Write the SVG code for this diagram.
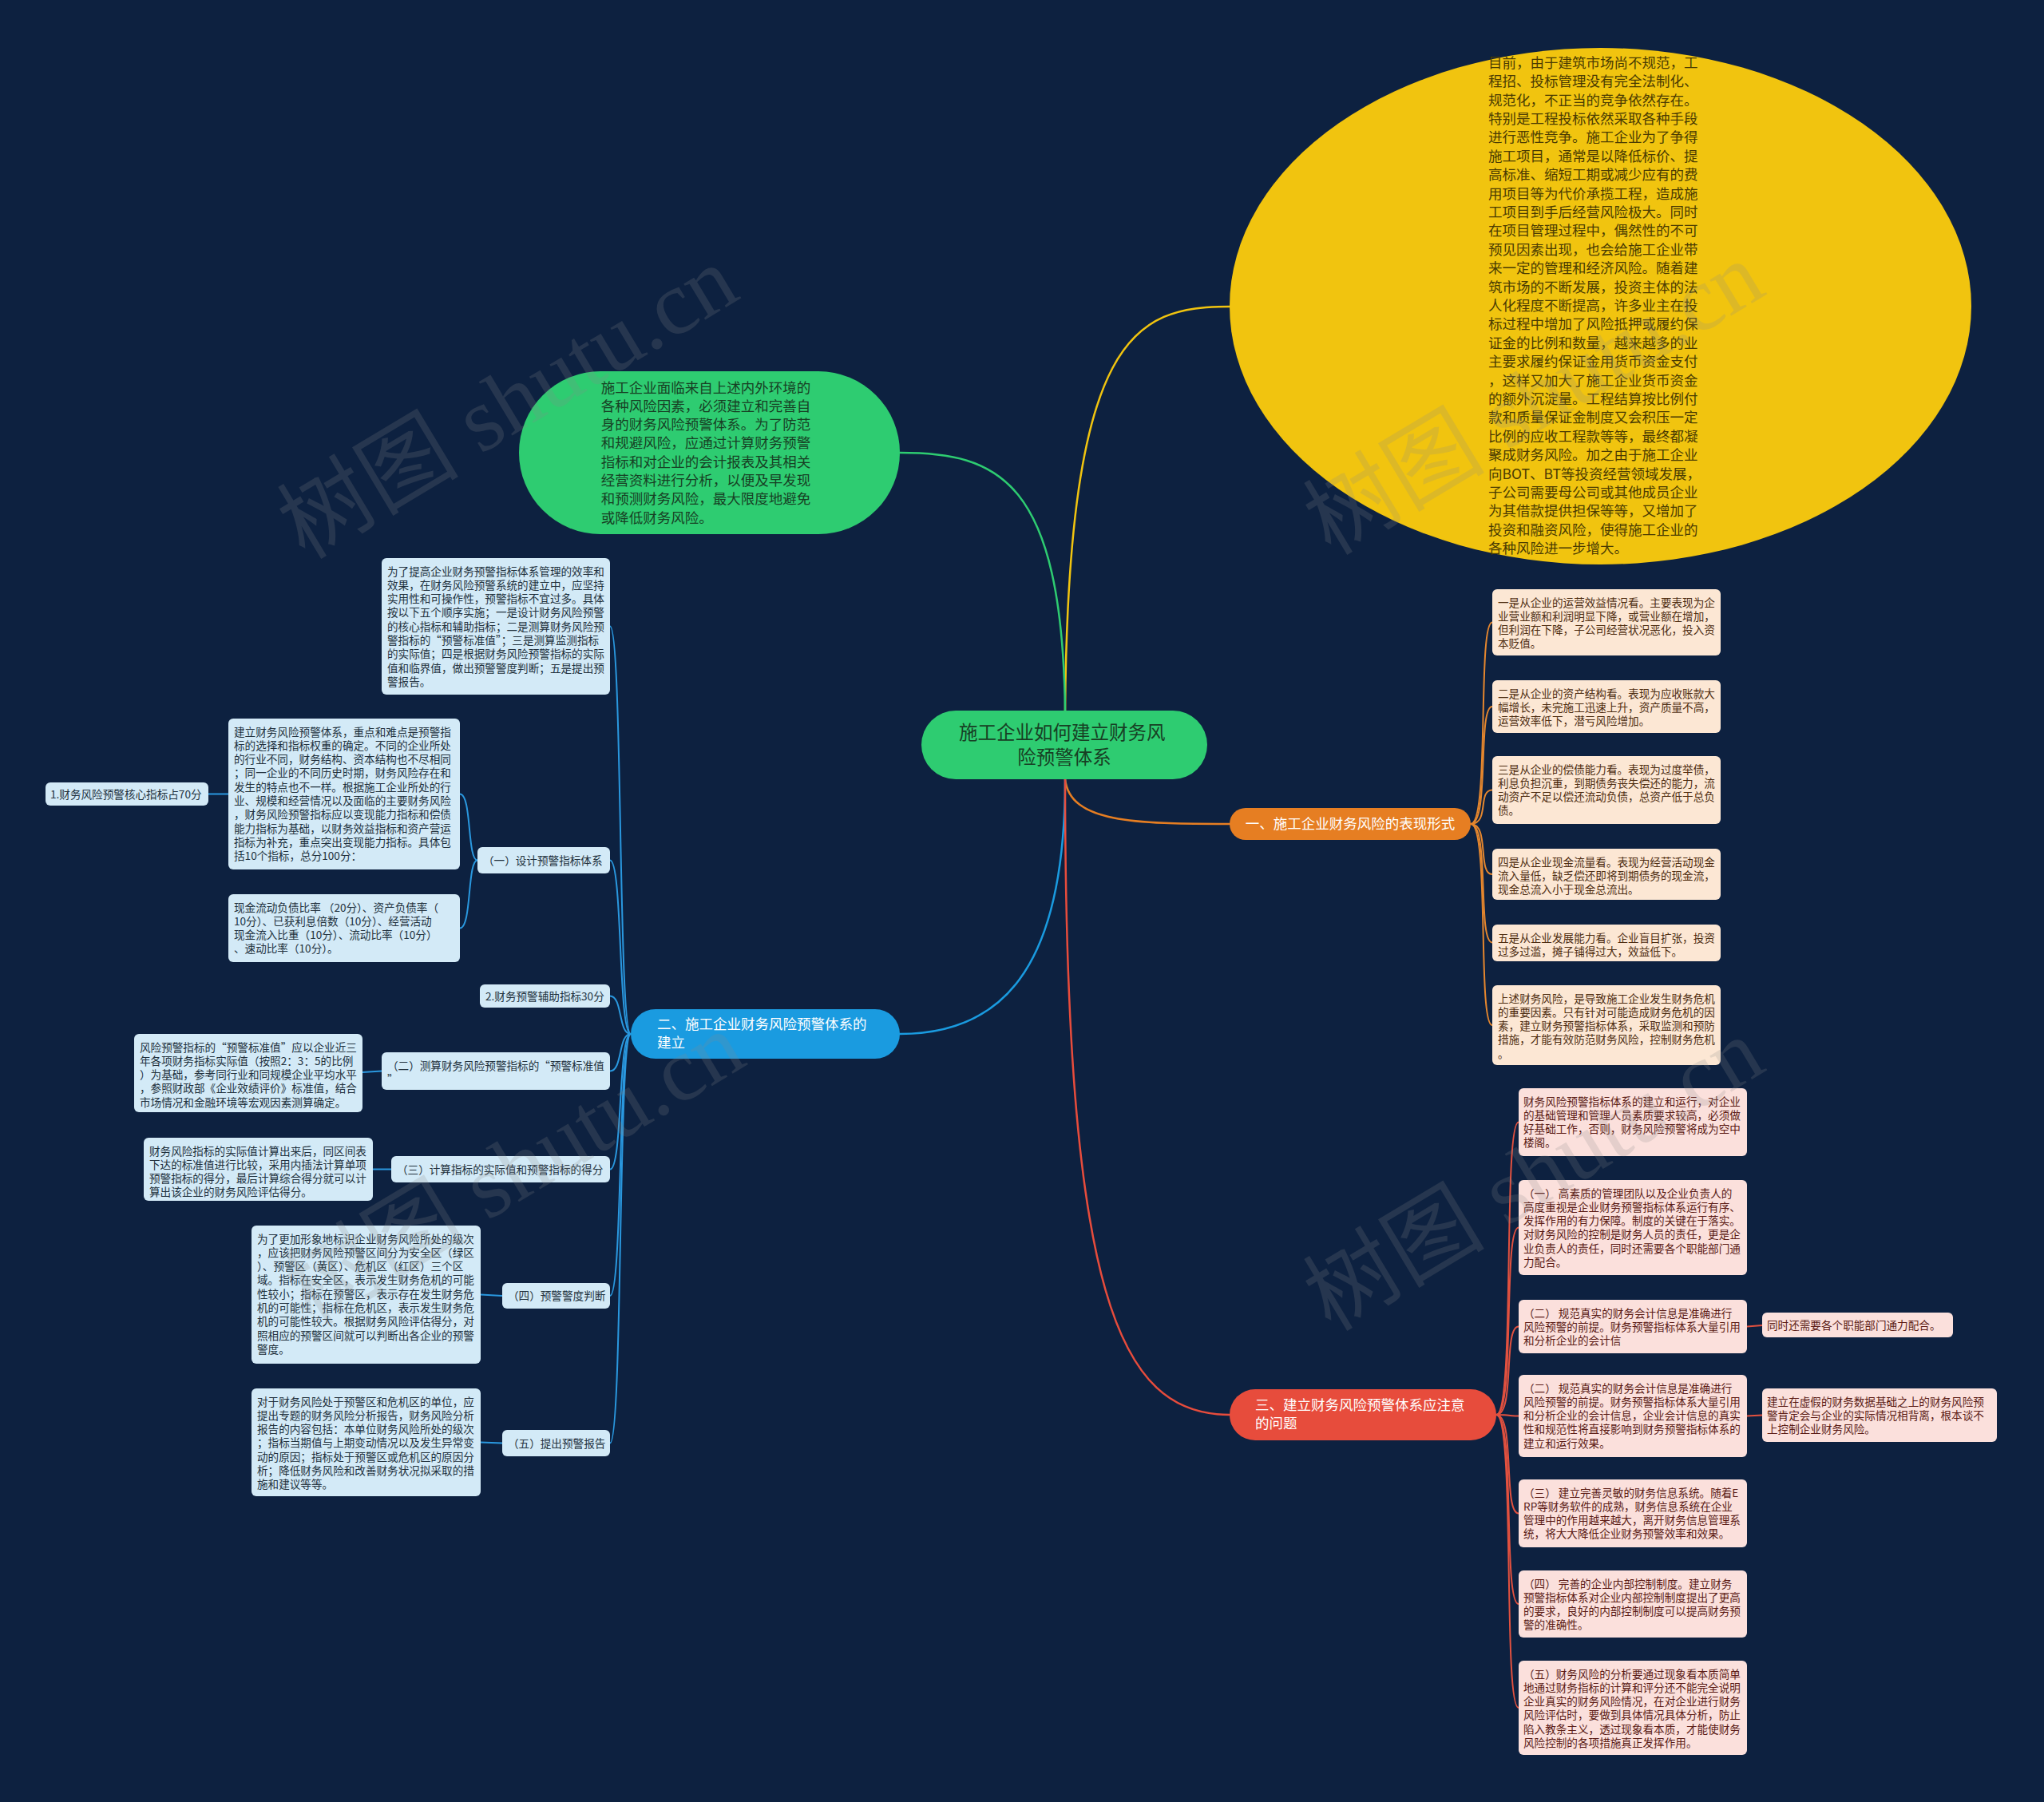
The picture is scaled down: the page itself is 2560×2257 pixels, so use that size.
<svg xmlns="http://www.w3.org/2000/svg" width="2560" height="2257" viewBox="0 0 2560 2257">
<style>
text{font-family:"Noto Sans CJK SC","Noto Sans",sans-serif}
.big{font-size:17.5px}
.sm{font-size:13.6px}
.yt{fill:#4a3b02}
.gt{fill:#173f24}
.wt{fill:#ffffff}
.bt{fill:#22313d}
.ot{fill:#4d2c10}
.rt{fill:#5a1a14}
.bbox{fill:#d3eaf7}
.obox{fill:#fce7d4}
.rbox{fill:#fbe0dc}
.c{fill:none;stroke-linecap:round}
.cb{stroke:#2a98df;stroke-width:2}
.co{stroke:#e4862e;stroke-width:2}
.cr{stroke:#e2513f;stroke-width:2}
.wm{font-family:"Liberation Serif","Noto Sans CJK SC",serif;font-size:114px;fill:#8a8a8a;opacity:0.2}
</style>
<rect x="0" y="0" width="2560" height="2257" fill="#0d2140"/>

<g id="connectors">
<path class="c" d="M1334,890 C1338,420 1420,384 1540,384" stroke="#f1c40f" stroke-width="2.5"/>
<path class="c" d="M1334,890 C1330,600 1250,567 1127,567" stroke="#2ecc71" stroke-width="2.5"/>
<path class="c" d="M1334,976 C1340,1030 1420,1032 1540,1032" stroke="#e67e22" stroke-width="2.5"/>
<path class="c" d="M1334,976 C1334,1220 1250,1295 1127,1295" stroke="#1a9be0" stroke-width="2.5"/>
<path class="c" d="M1334,976 C1334,1620 1400,1772 1540,1772" stroke="#e74c3c" stroke-width="2.5"/>

<path class="c co" d="M1842,1032 C1866,1032 1850,779.5 1869,779.5"/>
<path class="c co" d="M1842,1032 C1866,1032 1850,885 1869,885"/>
<path class="c co" d="M1842,1032 C1866,1032 1850,989.5 1869,989.5"/>
<path class="c co" d="M1842,1032 C1866,1032 1850,1095 1869,1095"/>
<path class="c co" d="M1842,1032 C1866,1032 1850,1180.5 1869,1180.5"/>
<path class="c co" d="M1842,1032 C1866,1032 1850,1284 1869,1284"/>

<path class="c cr" d="M1874,1772 C1898,1772 1882,1405.5 1902,1405.5"/>
<path class="c cr" d="M1874,1772 C1898,1772 1882,1537.5 1902,1537.5"/>
<path class="c cr" d="M1874,1772 C1898,1772 1882,1661.5 1902,1661.5"/>
<path class="c cr" d="M1874,1772 C1898,1772 1882,1773.5 1902,1773.5"/>
<path class="c cr" d="M1874,1772 C1898,1772 1882,1895.5 1902,1895.5"/>
<path class="c cr" d="M1874,1772 C1898,1772 1882,2009 1902,2009"/>
<path class="c cr" d="M1874,1772 C1898,1772 1882,2139 1902,2139"/>
<path class="c cr" d="M2188,1661.5 L2207,1660"/>
<path class="c cr" d="M2188,1773.5 L2207,1772.5"/>

<path class="c cb" d="M790,1295 C774,1295 780,784.5 764,784.5"/>
<path class="c cb" d="M790,1295 C774,1295 780,1077.5 764,1077.5"/>
<path class="c cb" d="M790,1295 C774,1295 780,1247.5 764,1247.5"/>
<path class="c cb" d="M790,1295 C774,1295 780,1341.5 764,1341.5"/>
<path class="c cb" d="M790,1295 C774,1295 780,1464.5 764,1464.5"/>
<path class="c cb" d="M790,1295 C774,1295 780,1623 764,1623"/>
<path class="c cb" d="M790,1295 C774,1295 780,1807.5 764,1807.5"/>
<path class="c cb" d="M598,1077.5 C585,1077.5 591,994.5 576,994.5"/>
<path class="c cb" d="M598,1077.5 C585,1077.5 591,1162.5 576,1162.5"/>
<path class="c cb" d="M286,994.5 L261,994.5"/>
<path class="c cb" d="M478,1341.5 L454,1343"/>
<path class="c cb" d="M490,1464.5 L467,1464.5"/>
<path class="c cb" d="M629,1623 L602,1621.5"/>
<path class="c cb" d="M629,1807.5 L602,1806.5"/>
</g>

<g id="n-yellow">
<ellipse cx="2004.5" cy="383.5" rx="464.5" ry="323.5" fill="#f1c40f"/>
<text class="big yt">
<tspan x="1864" y="84.7">目前，由于建筑市场尚不规范，工</tspan>
<tspan x="1864" y="108.1">程招、投标管理没有完全法制化、</tspan>
<tspan x="1864" y="131.5">规范化，不正当的竞争依然存在。</tspan>
<tspan x="1864" y="154.9">特别是工程投标依然采取各种手段</tspan>
<tspan x="1864" y="178.3">进行恶性竞争。施工企业为了争得</tspan>
<tspan x="1864" y="201.7">施工项目，通常是以降低标价、提</tspan>
<tspan x="1864" y="225.1">高标准、缩短工期或减少应有的费</tspan>
<tspan x="1864" y="248.5">用项目等为代价承揽工程，造成施</tspan>
<tspan x="1864" y="271.9">工项目到手后经营风险极大。同时</tspan>
<tspan x="1864" y="295.3">在项目管理过程中，偶然性的不可</tspan>
<tspan x="1864" y="318.7">预见因素出现，也会给施工企业带</tspan>
<tspan x="1864" y="342.1">来一定的管理和经济风险。随着建</tspan>
<tspan x="1864" y="365.5">筑市场的不断发展，投资主体的法</tspan>
<tspan x="1864" y="388.9">人化程度不断提高，许多业主在投</tspan>
<tspan x="1864" y="412.3">标过程中增加了风险抵押或履约保</tspan>
<tspan x="1864" y="435.7">证金的比例和数量，越来越多的业</tspan>
<tspan x="1864" y="459.1">主要求履约保证金用货币资金支付</tspan>
<tspan x="1864" y="482.5">，这样又加大了施工企业货币资金</tspan>
<tspan x="1864" y="505.9">的额外沉淀量。工程结算按比例付</tspan>
<tspan x="1864" y="529.3">款和质量保证金制度又会积压一定</tspan>
<tspan x="1864" y="552.7">比例的应收工程款等等，最终都凝</tspan>
<tspan x="1864" y="576.1">聚成财务风险。加之由于施工企业</tspan>
<tspan x="1864" y="599.5">向BOT、BT等投资经营领域发展，</tspan>
<tspan x="1864" y="622.9">子公司需要母公司或其他成员企业</tspan>
<tspan x="1864" y="646.3">为其借款提供担保等等，又增加了</tspan>
<tspan x="1864" y="669.7">投资和融资风险，使得施工企业的</tspan>
<tspan x="1864" y="693.1">各种风险进一步增大。</tspan>
</text>
</g>

<g id="n-green">
<rect x="650" y="465" width="477" height="204" rx="102" fill="#2ecc71"/>
<text class="big gt">
<tspan x="752.7" y="491.5">施工企业面临来自上述内外环境的</tspan>
<tspan x="752.7" y="514.8">各种风险因素，必须建立和完善自</tspan>
<tspan x="752.7" y="538.1">身的财务风险预警体系。为了防范</tspan>
<tspan x="752.7" y="561.4">和规避风险，应通过计算财务预警</tspan>
<tspan x="752.7" y="584.7">指标和对企业的会计报表及其相关</tspan>
<tspan x="752.7" y="608">经营资料进行分析，以便及早发现</tspan>
<tspan x="752.7" y="631.3">和预测财务风险，最大限度地避免</tspan>
<tspan x="752.7" y="654.6">或降低财务风险。</tspan>
</text>
</g>

<g id="n-root">
<rect x="1154" y="890" width="358" height="86" rx="43" fill="#2ecc71"/>
<text style="font-size:23.5px" class="gt" text-anchor="middle">
<tspan x="1333" y="926">施工企业如何建立财务风</tspan>
<tspan x="1333" y="957">险预警体系</tspan>
</text>
</g>

<g id="n-orange">
<rect x="1540" y="1012" width="302" height="40" rx="20" fill="#e67e22"/>
<text class="big wt" x="1691" y="1038" text-anchor="middle">一、施工企业财务风险的表现形式</text>
</g>

<g id="n-o1"><rect class="obox" x="1869" y="738" width="286" height="83" rx="6"/>
<text class="sm ot"><tspan x="1876" y="759.5">一是从企业的运营效益情况看。主要表现为企</tspan><tspan x="1876" y="776.8">业营业额和利润明显下降，或营业额在增加，</tspan><tspan x="1876" y="794.1">但利润在下降，子公司经营状况恶化，投入资</tspan><tspan x="1876" y="811.4">本贬值。</tspan></text></g>
<g id="n-o2"><rect class="obox" x="1869" y="852" width="286" height="66" rx="6"/>
<text class="sm ot"><tspan x="1876" y="873.5">二是从企业的资产结构看。表现为应收账款大</tspan><tspan x="1876" y="890.8">幅增长，未完施工迅速上升，资产质量不高，</tspan><tspan x="1876" y="908.1">运营效率低下，潜亏风险增加。</tspan></text></g>
<g id="n-o3"><rect class="obox" x="1869" y="947" width="286" height="85" rx="6"/>
<text class="sm ot"><tspan x="1876" y="968.5">三是从企业的偿债能力看。表现为过度举债，</tspan><tspan x="1876" y="985.8">利息负担沉重，到期债务丧失偿还的能力，流</tspan><tspan x="1876" y="1003.1">动资产不足以偿还流动负债，总资产低于总负</tspan><tspan x="1876" y="1020.4">债。</tspan></text></g>
<g id="n-o4"><rect class="obox" x="1869" y="1063" width="286" height="64" rx="6"/>
<text class="sm ot"><tspan x="1876" y="1084.5">四是从企业现金流量看。表现为经营活动现金</tspan><tspan x="1876" y="1101.8">流入量低，缺乏偿还即将到期债务的现金流，</tspan><tspan x="1876" y="1119.1">现金总流入小于现金总流出。</tspan></text></g>
<g id="n-o5"><rect class="obox" x="1869" y="1158" width="286" height="46" rx="6"/>
<text class="sm ot"><tspan x="1876" y="1179.5">五是从企业发展能力看。企业盲目扩张，投资</tspan><tspan x="1876" y="1196.8">过多过滥，摊子铺得过大，效益低下。</tspan></text></g>
<g id="n-o6"><rect class="obox" x="1869" y="1234" width="286" height="100" rx="6"/>
<text class="sm ot"><tspan x="1876" y="1255.5">上述财务风险，是导致施工企业发生财务危机</tspan><tspan x="1876" y="1272.8">的重要因素。只有针对可能造成财务危机的因</tspan><tspan x="1876" y="1290.1">素，建立财务预警指标体系，采取监测和预防</tspan><tspan x="1876" y="1307.4">措施，才能有效防范财务风险，控制财务危机</tspan><tspan x="1876" y="1324.7">。</tspan></text></g>

<g id="n-red">
<rect x="1540" y="1740" width="334" height="64" rx="32" fill="#e74c3c"/>
<text class="big wt"><tspan x="1572" y="1766">三、建立财务风险预警体系应注意</tspan><tspan x="1572" y="1789">的问题</tspan></text>
</g>

<g id="n-r1"><rect class="rbox" x="1902" y="1363" width="286" height="85" rx="6"/>
<text class="sm rt"><tspan x="1908" y="1384.5">财务风险预警指标体系的建立和运行，对企业</tspan><tspan x="1908" y="1401.8">的基础管理和管理人员素质要求较高，必须做</tspan><tspan x="1908" y="1419.1">好基础工作，否则，财务风险预警将成为空中</tspan><tspan x="1908" y="1436.4">楼阁。</tspan></text></g>
<g id="n-r2"><rect class="rbox" x="1902" y="1478" width="286" height="119" rx="6"/>
<text class="sm rt"><tspan x="1908" y="1499.5">（一） 高素质的管理团队以及企业负责人的</tspan><tspan x="1908" y="1516.8">高度重视是企业财务预警指标体系运行有序、</tspan><tspan x="1908" y="1534.1">发挥作用的有力保障。制度的关键在于落实。</tspan><tspan x="1908" y="1551.4">对财务风险的控制是财务人员的责任，更是企</tspan><tspan x="1908" y="1568.7">业负责人的责任，同时还需要各个职能部门通</tspan><tspan x="1908" y="1586">力配合。</tspan></text></g>
<g id="n-r3"><rect class="rbox" x="1902" y="1628" width="286" height="67" rx="6"/>
<text class="sm rt"><tspan x="1908" y="1649.5">（二） 规范真实的财务会计信息是准确进行</tspan><tspan x="1908" y="1666.8">风险预警的前提。财务预警指标体系大量引用</tspan><tspan x="1908" y="1684.1">和分析企业的会计信</tspan></text></g>
<g id="n-r3a"><rect class="rbox" x="2207" y="1644" width="239" height="31" rx="6"/>
<text class="sm rt" x="2213" y="1664.5">同时还需要各个职能部门通力配合。</text></g>
<g id="n-r4"><rect class="rbox" x="1902" y="1722" width="286" height="103" rx="6"/>
<text class="sm rt"><tspan x="1908" y="1743.5">（二） 规范真实的财务会计信息是准确进行</tspan><tspan x="1908" y="1760.8">风险预警的前提。财务预警指标体系大量引用</tspan><tspan x="1908" y="1778.1">和分析企业的会计信息，企业会计信息的真实</tspan><tspan x="1908" y="1795.4">性和规范性将直接影响到财务预警指标体系的</tspan><tspan x="1908" y="1812.7">建立和运行效果。</tspan></text></g>
<g id="n-r4a"><rect class="rbox" x="2207" y="1739" width="294" height="67" rx="6"/>
<text class="sm rt"><tspan x="2213" y="1760.5">建立在虚假的财务数据基础之上的财务风险预</tspan><tspan x="2213" y="1777.8">警肯定会与企业的实际情况相背离，根本谈不</tspan><tspan x="2213" y="1795.1">上控制企业财务风险。</tspan></text></g>
<g id="n-r5"><rect class="rbox" x="1902" y="1853" width="286" height="85" rx="6"/>
<text class="sm rt"><tspan x="1908" y="1874.5">（三） 建立完善灵敏的财务信息系统。随着E</tspan><tspan x="1908" y="1891.8">RP等财务软件的成熟，财务信息系统在企业</tspan><tspan x="1908" y="1909.1">管理中的作用越来越大，离开财务信息管理系</tspan><tspan x="1908" y="1926.4">统，将大大降低企业财务预警效率和效果。</tspan></text></g>
<g id="n-r6"><rect class="rbox" x="1902" y="1967" width="286" height="84" rx="6"/>
<text class="sm rt"><tspan x="1908" y="1988.5">（四） 完善的企业内部控制制度。建立财务</tspan><tspan x="1908" y="2005.8">预警指标体系对企业内部控制制度提出了更高</tspan><tspan x="1908" y="2023.1">的要求，良好的内部控制制度可以提高财务预</tspan><tspan x="1908" y="2040.4">警的准确性。</tspan></text></g>
<g id="n-r7"><rect class="rbox" x="1902" y="2080" width="286" height="118" rx="6"/>
<text class="sm rt"><tspan x="1908" y="2101.5">（五）财务风险的分析要通过现象看本质简单</tspan><tspan x="1908" y="2118.8">地通过财务指标的计算和评分还不能完全说明</tspan><tspan x="1908" y="2136.1">企业真实的财务风险情况，在对企业进行财务</tspan><tspan x="1908" y="2153.4">风险评估时，要做到具体情况具体分析，防止</tspan><tspan x="1908" y="2170.7">陷入教条主义，透过现象看本质，才能使财务</tspan><tspan x="1908" y="2188">风险控制的各项措施真正发挥作用。</tspan></text></g>

<g id="n-blue">
<rect x="790" y="1264" width="337" height="62" rx="31" fill="#1a9be0"/>
<text class="big wt"><tspan x="823" y="1289">二、施工企业财务风险预警体系的</tspan><tspan x="823" y="1312">建立</tspan></text>
</g>

<g id="n-b1"><rect class="bbox" x="478" y="699" width="286" height="171" rx="6"/>
<text class="sm bt"><tspan x="485" y="720.5">为了提高企业财务预警指标体系管理的效率和</tspan><tspan x="485" y="737.8">效果，在财务风险预警系统的建立中，应坚持</tspan><tspan x="485" y="755.1">实用性和可操作性，预警指标不宜过多。具体</tspan><tspan x="485" y="772.4">按以下五个顺序实施；一是设计财务风险预警</tspan><tspan x="485" y="789.7">的核心指标和辅助指标；二是测算财务风险预</tspan><tspan x="485" y="807">警指标的“预警标准值”；三是测算监测指标</tspan><tspan x="485" y="824.3">的实际值；四是根据财务风险预警指标的实际</tspan><tspan x="485" y="841.6">值和临界值，做出预警警度判断；五是提出预</tspan><tspan x="485" y="858.9">警报告。</tspan></text></g>
<g id="n-b2"><rect class="bbox" x="598" y="1061" width="166" height="33" rx="6"/>
<text class="sm bt" x="605" y="1082.5">（一）设计预警指标体系</text></g>
<g id="n-b2a"><rect class="bbox" x="286" y="900" width="290" height="189" rx="6"/>
<text class="sm bt"><tspan x="293" y="921.5">建立财务风险预警体系，重点和难点是预警指</tspan><tspan x="293" y="938.8">标的选择和指标权重的确定。不同的企业所处</tspan><tspan x="293" y="956.1">的行业不同，财务结构、资本结构也不尽相同</tspan><tspan x="293" y="973.4">；同一企业的不同历史时期，财务风险存在和</tspan><tspan x="293" y="990.7">发生的特点也不一样。根据施工企业所处的行</tspan><tspan x="293" y="1008">业、规模和经营情况以及面临的主要财务风险</tspan><tspan x="293" y="1025.3">，财务风险预警指标应以变现能力指标和偿债</tspan><tspan x="293" y="1042.6">能力指标为基础，以财务效益指标和资产营运</tspan><tspan x="293" y="1059.9">指标为补充，重点突出变现能力指标。具体包</tspan><tspan x="293" y="1077.2">括10个指标，总分100分：</tspan></text></g>
<g id="n-b2a1"><rect class="bbox" x="57" y="980" width="204" height="29" rx="6"/>
<text class="sm bt" x="63" y="999.5">1.财务风险预警核心指标占70分</text></g>
<g id="n-b2b"><rect class="bbox" x="286" y="1120" width="290" height="85" rx="6"/>
<text class="sm bt"><tspan x="293" y="1141.5">现金流动负债比率 （20分）、资产负债率（</tspan><tspan x="293" y="1158.8">10分）、已获利息倍数（10分）、经营活动</tspan><tspan x="293" y="1176.1">现金流入比重（10分）、流动比率（10分）</tspan><tspan x="293" y="1193.4">、速动比率（10分）。</tspan></text></g>
<g id="n-b3"><rect class="bbox" x="601" y="1233" width="163" height="29" rx="6"/>
<text class="sm bt" x="608" y="1252.5">2.财务预警辅助指标30分</text></g>
<g id="n-b4"><rect class="bbox" x="478" y="1318" width="286" height="47" rx="6"/>
<text class="sm bt"><tspan x="485" y="1339.5">（二）测算财务风险预警指标的“预警标准值</tspan><tspan x="485" y="1356.8">”</tspan></text></g>
<g id="n-b4a"><rect class="bbox" x="168" y="1295" width="286" height="98" rx="6"/>
<text class="sm bt"><tspan x="175" y="1316.5">风险预警指标的“预警标准值”应以企业近三</tspan><tspan x="175" y="1333.8">年各项财务指标实际值（按照2：3：5的比例</tspan><tspan x="175" y="1351.1">）为基础，参考同行业和同规模企业平均水平</tspan><tspan x="175" y="1368.4">，参照财政部《企业效绩评价》标准值，结合</tspan><tspan x="175" y="1385.7">市场情况和金融环境等宏观因素测算确定。</tspan></text></g>
<g id="n-b5"><rect class="bbox" x="490" y="1448" width="274" height="33" rx="6"/>
<text class="sm bt" x="497" y="1469.5">（三）计算指标的实际值和预警指标的得分</text></g>
<g id="n-b5a"><rect class="bbox" x="180" y="1425" width="287" height="79" rx="6"/>
<text class="sm bt"><tspan x="187" y="1446.5">财务风险指标的实际值计算出来后，同区间表</tspan><tspan x="187" y="1463.8">下达的标准值进行比较，采用内插法计算单项</tspan><tspan x="187" y="1481.1">预警指标的得分，最后计算综合得分就可以计</tspan><tspan x="187" y="1498.4">算出该企业的财务风险评估得分。</tspan></text></g>
<g id="n-b6"><rect class="bbox" x="629" y="1607" width="135" height="32" rx="6"/>
<text class="sm bt" x="636" y="1628">（四）预警警度判断</text></g>
<g id="n-b6a"><rect class="bbox" x="315" y="1535" width="287" height="173" rx="6"/>
<text class="sm bt"><tspan x="322" y="1556.5">为了更加形象地标识企业财务风险所处的级次</tspan><tspan x="322" y="1573.8">，应该把财务风险预警区间分为安全区（绿区</tspan><tspan x="322" y="1591.1">）、预警区（黄区）、危机区（红区）三个区</tspan><tspan x="322" y="1608.4">域。指标在安全区，表示发生财务危机的可能</tspan><tspan x="322" y="1625.7">性较小；指标在预警区，表示存在发生财务危</tspan><tspan x="322" y="1643">机的可能性；指标在危机区，表示发生财务危</tspan><tspan x="322" y="1660.3">机的可能性较大。根据财务风险评估得分，对</tspan><tspan x="322" y="1677.6">照相应的预警区间就可以判断出各企业的预警</tspan><tspan x="322" y="1694.9">警度。</tspan></text></g>
<g id="n-b7"><rect class="bbox" x="629" y="1791" width="135" height="33" rx="6"/>
<text class="sm bt" x="636" y="1812.5">（五）提出预警报告</text></g>
<g id="n-b7a"><rect class="bbox" x="315" y="1739" width="287" height="135" rx="6"/>
<text class="sm bt"><tspan x="322" y="1760.5">对于财务风险处于预警区和危机区的单位，应</tspan><tspan x="322" y="1777.8">提出专题的财务风险分析报告，财务风险分析</tspan><tspan x="322" y="1795.1">报告的内容包括：本单位财务风险所处的级次</tspan><tspan x="322" y="1812.4">；指标当期值与上期变动情况以及发生异常变</tspan><tspan x="322" y="1829.7">动的原因；指标处于预警区或危机区的原因分</tspan><tspan x="322" y="1847">析；降低财务风险和改善财务状况拟采取的措</tspan><tspan x="322" y="1864.3">施和建议等等。</tspan></text></g>

<g id="watermarks">
<text class="wm" x="645" y="540" text-anchor="middle" transform="rotate(-31 645 519)">树图 shutu.cn</text>
<text class="wm" x="1930" y="535" text-anchor="middle" transform="rotate(-31 1930 514)">树图 shutu.cn</text>
<text class="wm" x="653" y="1500" text-anchor="middle" transform="rotate(-31 653 1478)">树图 shutu.cn</text>
<text class="wm" x="1930" y="1507" text-anchor="middle" transform="rotate(-31 1930 1486)">树图 shutu.cn</text>
</g>
</svg>
